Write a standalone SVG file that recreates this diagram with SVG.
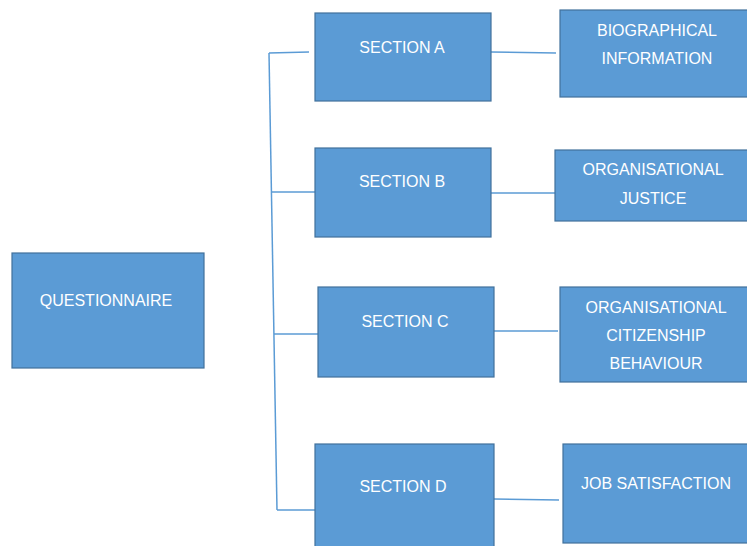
<svg xmlns="http://www.w3.org/2000/svg" width="747" height="546" viewBox="0 0 747 546">
  <style>
    .box { fill: #5B9BD5; stroke: #41719C; stroke-width: 1.2; }
    .lbl { fill: #FFFFFF; font-family: "Liberation Sans", Arial, sans-serif; font-size: 16px; text-anchor: middle; dominant-baseline: central; }
    .wire { fill: none; stroke: #5B9BD5; stroke-width: 1.5; }
  </style>
  <rect width="747" height="546" fill="#FFFFFF"/>

  <g id="connectors">
    <!-- trunk from the questionnaire side to each section -->
    <path class="wire" d="M269 53 L277 510"/>
    <path class="wire" d="M269 53 L309 52"/>
    <path class="wire" d="M271 192 L315 192"/>
    <path class="wire" d="M274 334 L318 334"/>
    <path class="wire" d="M277 510 L315 510"/>
    <!-- section to topic links -->
    <path class="wire" d="M491 52 L556 53"/>
    <path class="wire" d="M491 193 L555 193"/>
    <path class="wire" d="M494 331 L558 331"/>
    <path class="wire" d="M494 499 L559 500"/>
  </g>

  <g id="questionnaire">
    <rect class="box" x="12" y="253" width="192" height="115"/>
    <text class="lbl" x="106" y="300">QUESTIONNAIRE</text>
  </g>

  <g id="section-a">
    <rect class="box" x="315" y="13" width="176" height="88"/>
    <text class="lbl" x="402" y="47">SECTION A</text>
  </g>
  <g id="section-b">
    <rect class="box" x="315" y="148" width="176" height="89"/>
    <text class="lbl" x="402" y="181">SECTION B</text>
  </g>
  <g id="section-c">
    <rect class="box" x="318" y="287" width="176" height="90"/>
    <text class="lbl" x="405" y="321">SECTION C</text>
  </g>
  <g id="section-d">
    <rect class="box" x="315" y="444" width="179" height="110"/>
    <text class="lbl" x="403" y="486">SECTION D</text>
  </g>

  <g id="biographical">
    <rect class="box" x="560" y="10" width="195" height="87"/>
    <text class="lbl" x="657" y="30">BIOGRAPHICAL</text>
    <text class="lbl" x="657" y="58">INFORMATION</text>
  </g>
  <g id="justice">
    <rect class="box" x="555" y="150" width="200" height="71"/>
    <text class="lbl" x="653" y="169">ORGANISATIONAL</text>
    <text class="lbl" x="653" y="198">JUSTICE</text>
  </g>
  <g id="citizenship">
    <rect class="box" x="560" y="287" width="195" height="95"/>
    <text class="lbl" x="656" y="307">ORGANISATIONAL</text>
    <text class="lbl" x="656" y="335">CITIZENSHIP</text>
    <text class="lbl" x="656" y="363">BEHAVIOUR</text>
  </g>
  <g id="job-satisfaction">
    <rect class="box" x="563" y="444" width="192" height="99"/>
    <text class="lbl" x="656" y="483">JOB SATISFACTION</text>
  </g>
</svg>
